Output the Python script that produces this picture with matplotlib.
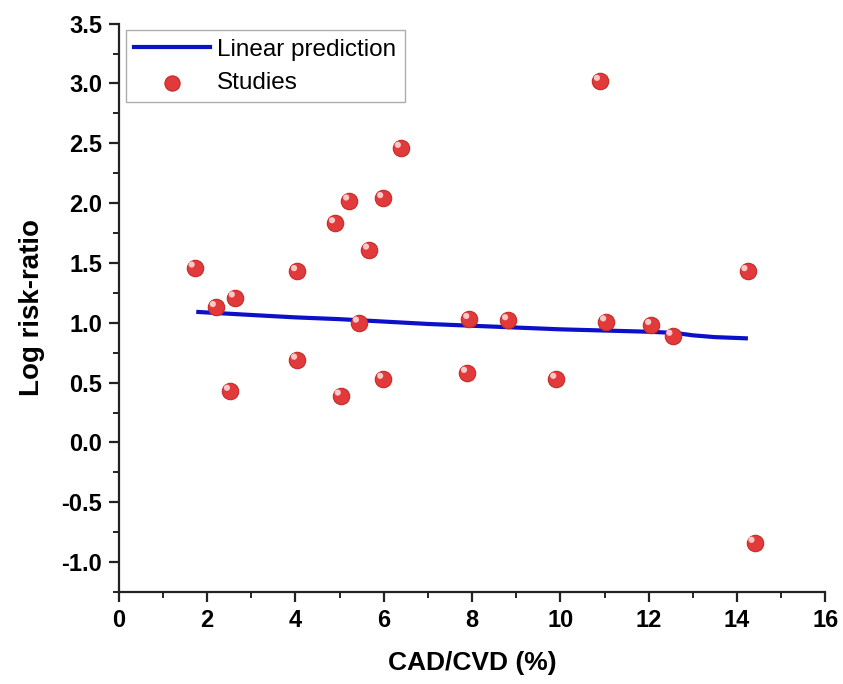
import matplotlib
matplotlib.use("Agg")
import matplotlib.pyplot as plt
import matplotlib.transforms as mtransforms
from matplotlib.ticker import MultipleLocator
import numpy as np

plt.rcParams["font.family"] = ["Liberation Sans", "DejaVu Sans"]
plt.rcParams["axes.unicode_minus"] = False

# Study points (CAD/CVD %, log risk-ratio)
study_x = [1.72, 2.20, 2.63, 2.52, 4.04, 4.04, 4.90, 5.22, 5.03, 5.67, 5.99, 5.44,
           5.99, 6.39, 7.94, 7.89, 8.82, 9.91, 10.90, 11.04, 12.06, 12.54, 14.24, 14.40]
study_y = [1.46, 1.13, 1.21, 0.43, 1.43, 0.69, 1.83, 2.02, 0.39, 1.61, 2.04, 1.00,
           0.53, 2.46, 1.03, 0.58, 1.02, 0.53, 3.02, 1.01, 0.98, 0.89, 1.43, -0.84]

# Linear prediction curve
pred_x = [1.8, 3.0, 4.0, 5.0, 6.0, 7.0, 8.0, 9.0, 10.0, 11.0, 12.0, 12.6, 13.0, 13.5, 14.2]
pred_y = [1.09, 1.065, 1.045, 1.03, 1.01, 0.99, 0.975, 0.96, 0.945, 0.935, 0.925, 0.915, 0.895, 0.88, 0.87]

fig = plt.figure(figsize=(8.43, 6.84), dpi=100)
ax = fig.add_axes([0.141, 0.1345, 0.838, 0.831])

ax.plot(pred_x, pred_y, color="#0c10c8", lw=3, label="Linear prediction", zorder=2)

# shaded "sphere" markers: red body + small highlight
ax.scatter(study_x, study_y, s=140, color="#e23a3a", edgecolors="#c42a2a",
           linewidths=0.8, zorder=3, label="Studies")
hl = mtransforms.offset_copy(ax.transData, fig=fig, x=-2.3, y=2.3, units="points")
ax.scatter(study_x, study_y, s=20, color="#fbc8c8", edgecolors="none",
           transform=hl, zorder=4)

ax.set_xlim(0, 16)
ax.set_ylim(-1.25, 3.5)
ax.xaxis.set_major_locator(MultipleLocator(2))
ax.xaxis.set_minor_locator(MultipleLocator(1))
ax.yaxis.set_minor_locator(MultipleLocator(0.25))
ax.set_yticks(np.arange(-1.0, 3.51, 0.5))
ax.set_yticklabels([f"{v:.1f}" for v in np.arange(-1.0, 3.51, 0.5)])
ax.set_xticks(np.arange(0, 17, 2))
ax.set_xticklabels([str(v) for v in range(0, 17, 2)])

for side in ("top", "right"):
    ax.spines[side].set_visible(False)
for side in ("left", "bottom"):
    ax.spines[side].set_linewidth(1.6)
    ax.spines[side].set_color("#222222")

ax.tick_params(which="major", direction="out", length=7, width=1.6, color="#222222",
               labelsize=17, pad=5)
ax.tick_params(which="minor", direction="out", length=4, width=1.4, color="#222222")
for lbl in ax.get_xticklabels() + ax.get_yticklabels():
    lbl.set_fontweight("bold")

ax.set_xlabel("CAD/CVD (%)", fontsize=19, fontweight="bold", labelpad=14)
ax.set_ylabel("Log risk-ratio", fontsize=20, fontweight="bold", labelpad=12)

leg = ax.legend(loc="upper left", bbox_to_anchor=(0.010, 0.988), fontsize=17.5,
                frameon=True, fancybox=False, edgecolor="#999999",
                handlelength=3.1, borderpad=0.35, labelspacing=0.45,
                handletextpad=0.3, borderaxespad=0)
leg.get_frame().set_linewidth(1.0)
leg.legend_handles[1].set_sizes([120])

fig.savefig("out.png", dpi=100, facecolor="white")
